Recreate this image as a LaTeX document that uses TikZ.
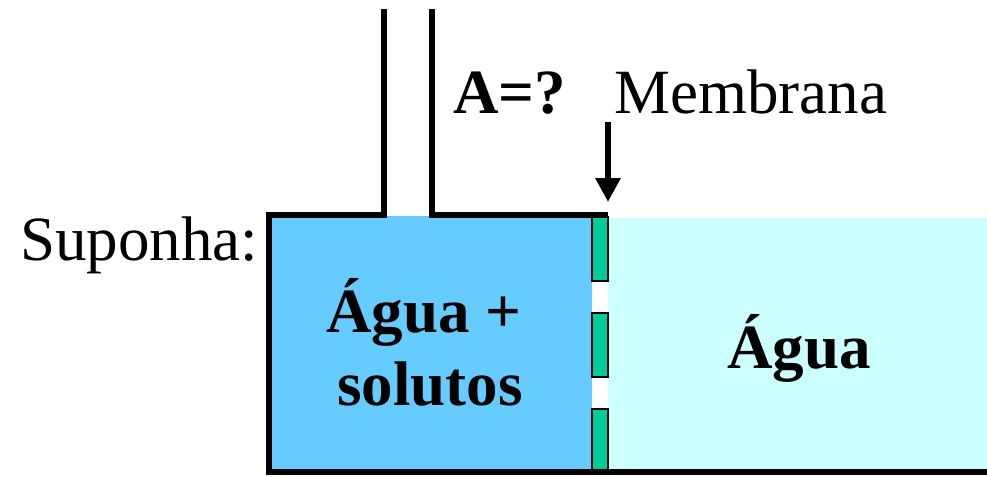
\documentclass[tikz,border=0pt]{standalone}
\usepackage{fontspec}
\setmainfont{Liberation Serif}
\usetikzlibrary{arrows.meta}
\definecolor{salgada}{HTML}{66CCFF}
\definecolor{doce}{HTML}{CCFFFF}
\definecolor{membr}{HTML}{00CC99}
\tikzset{
  rotulo/.style={inner sep=0pt, anchor=base west, font=\fontsize{31.5}{36}\selectfont},
  parede/.style={line width=3pt},
  poro/.style={draw=black, line width=1pt, fill=membr}
}
\begin{document}
\begin{tikzpicture}[x=0.5pt, y=-0.5pt, >=Stealth]
\useasboundingbox (0,0) rectangle (987,477);
% compartimentos
\fill[salgada] (269,216) rectangle (592,472);
\fill[doce] (608,218) rectangle (987,472);
% membrana
\draw[poro] (592,217) rectangle (608,281);
\draw[poro] (592,313) rectangle (608,377);
\draw[poro] (592,409) rectangle (608,472);
% paredes e tubo
\draw[parede] (269,472) -- (269,215) -- (384,215) -- (384,9);
\draw[parede] (432,9) -- (432,215) -- (608,215);
\draw[parede] (266,472) -- (987,472);
% textos
\node[rotulo] (area) at (453,113) {\textbf{A=?}};
\node[rotulo] (membrana) at (614,113) {Membrana};
\node[rotulo] (suponha) at (20,260) {Suponha:};
\node[rotulo] (mistura) at (326,332) {\textbf{Água +}};
\node[rotulo] (solutos) at (337,405) {\textbf{solutos}};
\node[rotulo] (agua) at (727,368) {\textbf{Água}};
% seta
\coordinate (topo) at (608,122);
\coordinate (ponta) at (608,202);
\draw[-{Triangle[length=12pt,width=12pt]}, line width=3pt] (topo) -- (ponta);
\end{tikzpicture}
\end{document}
